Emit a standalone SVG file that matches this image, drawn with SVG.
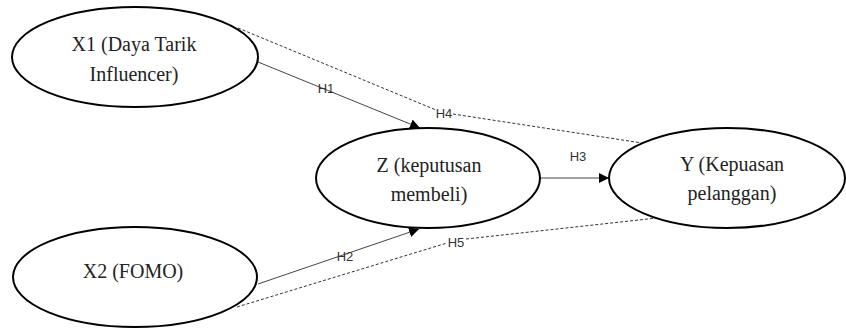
<svg xmlns="http://www.w3.org/2000/svg" width="846" height="329" viewBox="0 0 846 329">
<defs>
<marker id="arr" viewBox="0 0 10 10" refX="10" refY="5" markerWidth="10" markerHeight="10" markerUnits="userSpaceOnUse" orient="auto">
<path d="M0,0 L10,5 L0,10 Z" fill="#000"/>
</marker>
<style>
.node ellipse{fill:#fff;stroke:#000;stroke-width:2}
.node text{font-family:"Liberation Serif","Times New Roman",serif;font-size:20px;fill:#222;text-anchor:middle}
.solid{fill:none;stroke:#444;stroke-width:1}
.dash{fill:none;stroke:#333;stroke-width:1;stroke-dasharray:3,2}
.lbl{font-family:"Liberation Sans",Arial,sans-serif;font-size:13px;fill:#333;text-anchor:middle}
</style>
</defs>
<rect width="846" height="329" fill="#fff"/>
<g id="connectors">
<path class="dash" d="M238,28 L436,110 M453,114 L642,143"/>
<path class="dash" d="M237,307 L447,243 M466,239 L657,218"/>
<line class="solid" x1="258" y1="62" x2="420" y2="128" marker-end="url(#arr)"/>
<line class="solid" x1="258" y1="284" x2="419" y2="229" marker-end="url(#arr)"/>
<line class="solid" x1="540" y1="178" x2="609" y2="178" marker-end="url(#arr)"/>
<text class="lbl" x="326" y="93">H1</text>
<text class="lbl" x="345" y="261">H2</text>
<text class="lbl" x="578" y="161">H3</text>
<text class="lbl" x="444" y="118">H4</text>
<text class="lbl" x="456" y="247">H5</text>
</g>
<g id="X1" class="node">
<ellipse cx="135" cy="57" rx="123" ry="50"/>
<text x="134" y="51">X1 (Daya Tarik</text>
<text x="134" y="81">Influencer)</text>
</g>
<g id="X2" class="node">
<ellipse cx="135" cy="277" rx="122" ry="50"/>
<text x="133" y="278">X2 (FOMO)</text>
</g>
<g id="Z" class="node">
<ellipse cx="428" cy="178" rx="112" ry="50"/>
<text x="429" y="172">Z (keputusan</text>
<text x="429" y="201">membeli)</text>
</g>
<g id="Y" class="node">
<ellipse cx="727" cy="178" rx="118" ry="50"/>
<text x="732" y="171">Y (Kepuasan</text>
<text x="732" y="200">pelanggan)</text>
</g>
</svg>
